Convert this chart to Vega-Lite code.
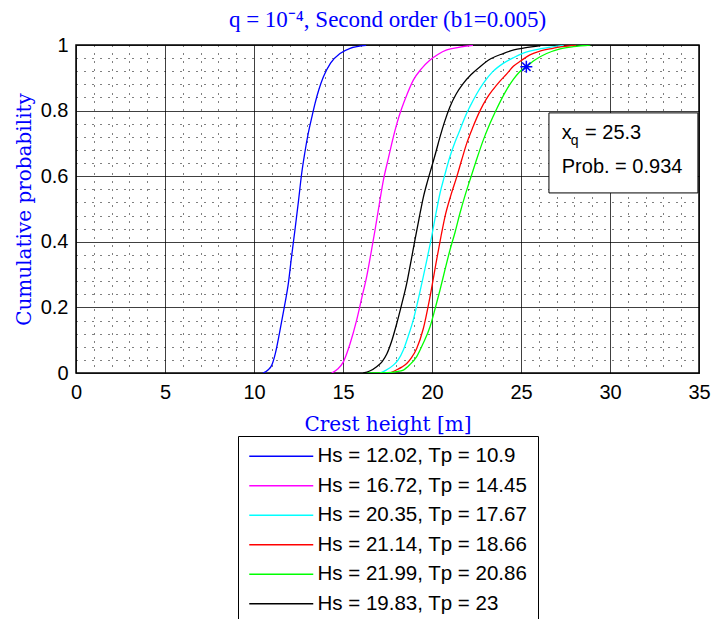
{
  "$schema": "https://vega.github.io/schema/vega-lite/v6.json",
  "width": 623,
  "height": 328,
  "autosize": {"type": "none"},
  "padding": {"left": 76, "top": 45, "right": 12, "bottom": 246},
  "background": "white",
  "title": {
    "text": "q = 10⁻⁴, Second order (b1=0.005)",
    "font": "Liberation Serif",
    "fontSize": 23,
    "fontWeight": "normal",
    "color": "#0000ff",
    "offset": 3,
    "anchor": "middle",
    "frame": "group"
  },
  "config": {
    "view": {"stroke": "black", "strokeWidth": 1.5},
    "axis": {"labelFont": "Liberation Sans", "labelFontSize": 20, "labelColor": "black"}
  },
  "layer": [
    {
      "data": {
        "values": [
          {"series": "Hs = 12.02, Tp = 10.9", "x": 10.5, "p": 0},
          {"series": "Hs = 12.02, Tp = 10.9", "x": 10.8, "p": 0.01},
          {"series": "Hs = 12.02, Tp = 10.9", "x": 11.0, "p": 0.024},
          {"series": "Hs = 12.02, Tp = 10.9", "x": 11.2, "p": 0.06},
          {"series": "Hs = 12.02, Tp = 10.9", "x": 11.46, "p": 0.13},
          {"series": "Hs = 12.02, Tp = 10.9", "x": 11.7, "p": 0.2},
          {"series": "Hs = 12.02, Tp = 10.9", "x": 11.93, "p": 0.273},
          {"series": "Hs = 12.02, Tp = 10.9", "x": 12.1, "p": 0.35},
          {"series": "Hs = 12.02, Tp = 10.9", "x": 12.3, "p": 0.436},
          {"series": "Hs = 12.02, Tp = 10.9", "x": 12.5, "p": 0.525},
          {"series": "Hs = 12.02, Tp = 10.9", "x": 12.68, "p": 0.609},
          {"series": "Hs = 12.02, Tp = 10.9", "x": 12.85, "p": 0.67},
          {"series": "Hs = 12.02, Tp = 10.9", "x": 13.05, "p": 0.731},
          {"series": "Hs = 12.02, Tp = 10.9", "x": 13.25, "p": 0.78},
          {"series": "Hs = 12.02, Tp = 10.9", "x": 13.43, "p": 0.822},
          {"series": "Hs = 12.02, Tp = 10.9", "x": 13.65, "p": 0.865},
          {"series": "Hs = 12.02, Tp = 10.9", "x": 13.9, "p": 0.903},
          {"series": "Hs = 12.02, Tp = 10.9", "x": 14.3, "p": 0.945},
          {"series": "Hs = 12.02, Tp = 10.9", "x": 14.83, "p": 0.974},
          {"series": "Hs = 12.02, Tp = 10.9", "x": 15.4, "p": 0.99},
          {"series": "Hs = 12.02, Tp = 10.9", "x": 16.3, "p": 0.999},

          {"series": "Hs = 16.72, Tp = 14.45", "x": 14.36, "p": 0},
          {"series": "Hs = 16.72, Tp = 14.45", "x": 14.7, "p": 0.012},
          {"series": "Hs = 16.72, Tp = 14.45", "x": 15.02, "p": 0.034},
          {"series": "Hs = 16.72, Tp = 14.45", "x": 15.4, "p": 0.09},
          {"series": "Hs = 16.72, Tp = 14.45", "x": 15.77, "p": 0.162},
          {"series": "Hs = 16.72, Tp = 14.45", "x": 16.05, "p": 0.228},
          {"series": "Hs = 16.72, Tp = 14.45", "x": 16.33, "p": 0.294},
          {"series": "Hs = 16.72, Tp = 14.45", "x": 16.57, "p": 0.365},
          {"series": "Hs = 16.72, Tp = 14.45", "x": 16.8, "p": 0.436},
          {"series": "Hs = 16.72, Tp = 14.45", "x": 17.03, "p": 0.512},
          {"series": "Hs = 16.72, Tp = 14.45", "x": 17.27, "p": 0.588},
          {"series": "Hs = 16.72, Tp = 14.45", "x": 17.55, "p": 0.655},
          {"series": "Hs = 16.72, Tp = 14.45", "x": 17.83, "p": 0.72},
          {"series": "Hs = 16.72, Tp = 14.45", "x": 18.05, "p": 0.765},
          {"series": "Hs = 16.72, Tp = 14.45", "x": 18.3, "p": 0.807},
          {"series": "Hs = 16.72, Tp = 14.45", "x": 18.6, "p": 0.85},
          {"series": "Hs = 16.72, Tp = 14.45", "x": 18.95, "p": 0.893},
          {"series": "Hs = 16.72, Tp = 14.45", "x": 19.4, "p": 0.927},
          {"series": "Hs = 16.72, Tp = 14.45", "x": 19.89, "p": 0.954},
          {"series": "Hs = 16.72, Tp = 14.45", "x": 20.35, "p": 0.972},
          {"series": "Hs = 16.72, Tp = 14.45", "x": 20.83, "p": 0.985},
          {"series": "Hs = 16.72, Tp = 14.45", "x": 21.5, "p": 0.993},
          {"series": "Hs = 16.72, Tp = 14.45", "x": 22.3, "p": 0.999},

          {"series": "Hs = 20.35, Tp = 17.67", "x": 17.08, "p": 0},
          {"series": "Hs = 20.35, Tp = 17.67", "x": 17.4, "p": 0.008},
          {"series": "Hs = 20.35, Tp = 17.67", "x": 17.83, "p": 0.024},
          {"series": "Hs = 20.35, Tp = 17.67", "x": 18.1, "p": 0.04},
          {"series": "Hs = 20.35, Tp = 17.67", "x": 18.39, "p": 0.07},
          {"series": "Hs = 20.35, Tp = 17.67", "x": 18.65, "p": 0.11},
          {"series": "Hs = 20.35, Tp = 17.67", "x": 18.95, "p": 0.162},
          {"series": "Hs = 20.35, Tp = 17.67", "x": 19.25, "p": 0.23},
          {"series": "Hs = 20.35, Tp = 17.67", "x": 19.51, "p": 0.294},
          {"series": "Hs = 20.35, Tp = 17.67", "x": 19.75, "p": 0.355},
          {"series": "Hs = 20.35, Tp = 17.67", "x": 19.98, "p": 0.416},
          {"series": "Hs = 20.35, Tp = 17.67", "x": 20.2, "p": 0.48},
          {"series": "Hs = 20.35, Tp = 17.67", "x": 20.45, "p": 0.548},
          {"series": "Hs = 20.35, Tp = 17.67", "x": 20.7, "p": 0.6},
          {"series": "Hs = 20.35, Tp = 17.67", "x": 21.01, "p": 0.66},
          {"series": "Hs = 20.35, Tp = 17.67", "x": 21.3, "p": 0.705},
          {"series": "Hs = 20.35, Tp = 17.67", "x": 21.57, "p": 0.741},
          {"series": "Hs = 20.35, Tp = 17.67", "x": 21.85, "p": 0.78},
          {"series": "Hs = 20.35, Tp = 17.67", "x": 22.13, "p": 0.812},
          {"series": "Hs = 20.35, Tp = 17.67", "x": 22.5, "p": 0.85},
          {"series": "Hs = 20.35, Tp = 17.67", "x": 22.88, "p": 0.883},
          {"series": "Hs = 20.35, Tp = 17.67", "x": 23.4, "p": 0.918},
          {"series": "Hs = 20.35, Tp = 17.67", "x": 24.0, "p": 0.944},
          {"series": "Hs = 20.35, Tp = 17.67", "x": 24.6, "p": 0.962},
          {"series": "Hs = 20.35, Tp = 17.67", "x": 25.13, "p": 0.975},
          {"series": "Hs = 20.35, Tp = 17.67", "x": 25.8, "p": 0.985},
          {"series": "Hs = 20.35, Tp = 17.67", "x": 26.6, "p": 0.993},
          {"series": "Hs = 20.35, Tp = 17.67", "x": 27.4, "p": 0.999},

          {"series": "Hs = 21.14, Tp = 18.66", "x": 17.64, "p": 0},
          {"series": "Hs = 21.14, Tp = 18.66", "x": 18.02, "p": 0.01},
          {"series": "Hs = 21.14, Tp = 18.66", "x": 18.3, "p": 0.018},
          {"series": "Hs = 21.14, Tp = 18.66", "x": 18.58, "p": 0.029},
          {"series": "Hs = 21.14, Tp = 18.66", "x": 18.85, "p": 0.047},
          {"series": "Hs = 21.14, Tp = 18.66", "x": 19.14, "p": 0.075},
          {"series": "Hs = 21.14, Tp = 18.66", "x": 19.51, "p": 0.135},
          {"series": "Hs = 21.14, Tp = 18.66", "x": 19.89, "p": 0.233},
          {"series": "Hs = 21.14, Tp = 18.66", "x": 20.26, "p": 0.345},
          {"series": "Hs = 21.14, Tp = 18.66", "x": 20.5, "p": 0.415},
          {"series": "Hs = 21.14, Tp = 18.66", "x": 20.73, "p": 0.477},
          {"series": "Hs = 21.14, Tp = 18.66", "x": 21.05, "p": 0.54},
          {"series": "Hs = 21.14, Tp = 18.66", "x": 21.39, "p": 0.598},
          {"series": "Hs = 21.14, Tp = 18.66", "x": 21.67, "p": 0.65},
          {"series": "Hs = 21.14, Tp = 18.66", "x": 21.95, "p": 0.7},
          {"series": "Hs = 21.14, Tp = 18.66", "x": 22.3, "p": 0.75},
          {"series": "Hs = 21.14, Tp = 18.66", "x": 22.7, "p": 0.8},
          {"series": "Hs = 21.14, Tp = 18.66", "x": 23.05, "p": 0.835},
          {"series": "Hs = 21.14, Tp = 18.66", "x": 23.44, "p": 0.865},
          {"series": "Hs = 21.14, Tp = 18.66", "x": 23.82, "p": 0.89},
          {"series": "Hs = 21.14, Tp = 18.66", "x": 24.2, "p": 0.912},
          {"series": "Hs = 21.14, Tp = 18.66", "x": 24.57, "p": 0.935},
          {"series": "Hs = 21.14, Tp = 18.66", "x": 25.0, "p": 0.952},
          {"series": "Hs = 21.14, Tp = 18.66", "x": 25.5, "p": 0.97},
          {"series": "Hs = 21.14, Tp = 18.66", "x": 26.1, "p": 0.982},
          {"series": "Hs = 21.14, Tp = 18.66", "x": 26.8, "p": 0.99},
          {"series": "Hs = 21.14, Tp = 18.66", "x": 27.3, "p": 0.995},
          {"series": "Hs = 21.14, Tp = 18.66", "x": 28.1, "p": 0.999},

          {"series": "Hs = 21.99, Tp = 20.86", "x": 16.3, "p": 0},
          {"series": "Hs = 21.99, Tp = 20.86", "x": 17.5, "p": 0.001},
          {"series": "Hs = 21.99, Tp = 20.86", "x": 18.0, "p": 0.004},
          {"series": "Hs = 21.99, Tp = 20.86", "x": 18.39, "p": 0.009},
          {"series": "Hs = 21.99, Tp = 20.86", "x": 18.75, "p": 0.025},
          {"series": "Hs = 21.99, Tp = 20.86", "x": 19.14, "p": 0.05},
          {"series": "Hs = 21.99, Tp = 20.86", "x": 19.5, "p": 0.09},
          {"series": "Hs = 21.99, Tp = 20.86", "x": 19.89, "p": 0.141},
          {"series": "Hs = 21.99, Tp = 20.86", "x": 20.17, "p": 0.195},
          {"series": "Hs = 21.99, Tp = 20.86", "x": 20.45, "p": 0.253},
          {"series": "Hs = 21.99, Tp = 20.86", "x": 20.73, "p": 0.315},
          {"series": "Hs = 21.99, Tp = 20.86", "x": 21.01, "p": 0.375},
          {"series": "Hs = 21.99, Tp = 20.86", "x": 21.3, "p": 0.43},
          {"series": "Hs = 21.99, Tp = 20.86", "x": 21.57, "p": 0.487},
          {"series": "Hs = 21.99, Tp = 20.86", "x": 21.85, "p": 0.54},
          {"series": "Hs = 21.99, Tp = 20.86", "x": 22.13, "p": 0.588},
          {"series": "Hs = 21.99, Tp = 20.86", "x": 22.5, "p": 0.65},
          {"series": "Hs = 21.99, Tp = 20.86", "x": 22.88, "p": 0.71},
          {"series": "Hs = 21.99, Tp = 20.86", "x": 23.25, "p": 0.76},
          {"series": "Hs = 21.99, Tp = 20.86", "x": 23.63, "p": 0.805},
          {"series": "Hs = 21.99, Tp = 20.86", "x": 24.1, "p": 0.855},
          {"series": "Hs = 21.99, Tp = 20.86", "x": 24.57, "p": 0.895},
          {"series": "Hs = 21.99, Tp = 20.86", "x": 24.9, "p": 0.917},
          {"series": "Hs = 21.99, Tp = 20.86", "x": 25.3, "p": 0.934},
          {"series": "Hs = 21.99, Tp = 20.86", "x": 25.8, "p": 0.955},
          {"series": "Hs = 21.99, Tp = 20.86", "x": 26.44, "p": 0.974},
          {"series": "Hs = 21.99, Tp = 20.86", "x": 27.2, "p": 0.988},
          {"series": "Hs = 21.99, Tp = 20.86", "x": 27.94, "p": 0.995},
          {"series": "Hs = 21.99, Tp = 20.86", "x": 28.9, "p": 1.0},

          {"series": "Hs = 19.83, Tp = 23", "x": 16.14, "p": 0},
          {"series": "Hs = 19.83, Tp = 23", "x": 16.5, "p": 0.006},
          {"series": "Hs = 19.83, Tp = 23", "x": 16.89, "p": 0.019},
          {"series": "Hs = 19.83, Tp = 23", "x": 17.2, "p": 0.035},
          {"series": "Hs = 19.83, Tp = 23", "x": 17.46, "p": 0.058},
          {"series": "Hs = 19.83, Tp = 23", "x": 17.75, "p": 0.1},
          {"series": "Hs = 19.83, Tp = 23", "x": 18.02, "p": 0.151},
          {"series": "Hs = 19.83, Tp = 23", "x": 18.3, "p": 0.21},
          {"series": "Hs = 19.83, Tp = 23", "x": 18.58, "p": 0.273},
          {"series": "Hs = 19.83, Tp = 23", "x": 18.8, "p": 0.335},
          {"series": "Hs = 19.83, Tp = 23", "x": 19.04, "p": 0.405},
          {"series": "Hs = 19.83, Tp = 23", "x": 19.27, "p": 0.47},
          {"series": "Hs = 19.83, Tp = 23", "x": 19.51, "p": 0.535},
          {"series": "Hs = 19.83, Tp = 23", "x": 19.75, "p": 0.585},
          {"series": "Hs = 19.83, Tp = 23", "x": 19.98, "p": 0.628},
          {"series": "Hs = 19.83, Tp = 23", "x": 20.2, "p": 0.67},
          {"series": "Hs = 19.83, Tp = 23", "x": 20.45, "p": 0.72},
          {"series": "Hs = 19.83, Tp = 23", "x": 20.7, "p": 0.765},
          {"series": "Hs = 19.83, Tp = 23", "x": 21.01, "p": 0.812},
          {"series": "Hs = 19.83, Tp = 23", "x": 21.35, "p": 0.85},
          {"series": "Hs = 19.83, Tp = 23", "x": 21.76, "p": 0.883},
          {"series": "Hs = 19.83, Tp = 23", "x": 22.2, "p": 0.91},
          {"series": "Hs = 19.83, Tp = 23", "x": 22.7, "p": 0.934},
          {"series": "Hs = 19.83, Tp = 23", "x": 23.3, "p": 0.958},
          {"series": "Hs = 19.83, Tp = 23", "x": 24.0, "p": 0.974},
          {"series": "Hs = 19.83, Tp = 23", "x": 24.6, "p": 0.985},
          {"series": "Hs = 19.83, Tp = 23", "x": 25.2, "p": 0.991},
          {"series": "Hs = 19.83, Tp = 23", "x": 26.1, "p": 0.998}
        ]
      },
      "mark": {"type": "line", "strokeWidth": 1.3, "interpolate": "monotone", "clip": true},
      "encoding": {
        "x": {
          "field": "x",
          "type": "quantitative",
          "scale": {"domain": [0, 35], "nice": false, "zero": false},
          "axis": {
            "values": [0,1,2,3,4,5,6,7,8,9,10,11,12,13,14,15,16,17,18,19,20,21,22,23,24,25,26,27,28,29,30,31,32,33,34,35],
            "tickCount": 200,
            "format": "d",
            "labelExpr": "datum.value % 5 === 0 ? datum.label : ''",
            "labelOverlap": false,
            "labelFlush": false,
            "grid": true,
            "gridColor": "black",
            "gridWidth": 1,
            "gridDash": {"condition": {"test": "datum.value % 5 === 0", "value": [1, 0]}, "value": [1, 7]},
            "ticks": false,
            "domain": false,
            "labelPadding": 9,
            "title": "Crest height [m]",
            "titleFont": "DejaVu Serif",
            "titleFontSize": 20,
            "titleFontWeight": "normal",
            "titleColor": "#0000ff",
            "titlePadding": 12
          }
        },
        "y": {
          "field": "p",
          "type": "quantitative",
          "scale": {"domain": [0, 1], "nice": false},
          "axis": {
            "values": [0,0.04,0.08,0.12,0.16,0.2,0.24,0.28,0.32,0.36,0.4,0.44,0.48,0.52,0.56,0.6,0.64,0.68,0.72,0.76,0.8,0.84,0.88,0.92,0.96,1],
            "tickCount": 200,
            "format": "~g",
            "labelExpr": "abs(datum.value*5 - round(datum.value*5)) < 0.001 ? datum.label : ''",
            "labelOverlap": false,
            "labelFlush": false,
            "grid": true,
            "gridColor": "black",
            "gridWidth": 1,
            "gridDash": {"condition": {"test": "abs(datum.value*5 - round(datum.value*5)) < 0.001", "value": [1, 0]}, "value": [1, 7]},
            "ticks": false,
            "domain": false,
            "labelPadding": 8,
            "title": "Cumulative probability",
            "titleFont": "DejaVu Serif",
            "titleFontSize": 20,
            "titleFontWeight": "normal",
            "titleColor": "#0000ff",
            "titlePadding": 6
          }
        },
        "color": {
          "field": "series",
          "type": "nominal",
          "sort": null,
          "scale": {
            "domain": ["Hs = 12.02, Tp = 10.9", "Hs = 16.72, Tp = 14.45", "Hs = 20.35, Tp = 17.67", "Hs = 21.14, Tp = 18.66", "Hs = 21.99, Tp = 20.86", "Hs = 19.83, Tp = 23"],
            "range": ["#0000ff", "#ff00ff", "#00ffff", "#ff0000", "#00ff00", "#000000"]
          },
          "legend": {
            "orient": "none",
            "legendX": 162,
            "legendY": 391,
            "title": null,
            "direction": "vertical",
            "fillColor": "white",
            "strokeColor": "black",
            "padding": 10,
            "symbolType": "M-16,0L16,0",
            "symbolSize": 16,
            "symbolOffset": 23,
            "symbolStrokeWidth": 1.5,
            "labelFont": "Liberation Sans",
            "labelFontSize": 20.5,
            "labelColor": "black",
            "labelOffset": 26,
            "labelLimit": 400,
            "rowPadding": 8.5
          }
        }
      }
    },
    {
      "data": {"values": [{"x": 26.57, "x2": 34.94, "y": 0.549, "y2": 0.793}]},
      "mark": {"type": "rect", "fill": "white", "stroke": "black", "strokeWidth": 1},
      "encoding": {
        "x": {"field": "x", "type": "quantitative"},
        "x2": {"field": "x2"},
        "y": {"field": "y", "type": "quantitative"},
        "y2": {"field": "y2"}
      }
    },
    {
      "data": {"values": [{"x": 25.3, "p": 0.934}]},
      "mark": {
        "type": "point",
        "shape": "M-1,0L1,0M0,-1L0,1M-0.7,-0.7L0.7,0.7M-0.7,0.7L0.7,-0.7",
        "filled": false,
        "stroke": "#0000ff",
        "strokeWidth": 1.5,
        "size": 144,
        "opacity": 1
      },
      "encoding": {
        "x": {"field": "x", "type": "quantitative"},
        "y": {"field": "p", "type": "quantitative"}
      }
    },
    {
      "data": {"values": [
        {"x": 27.29, "p": 0.7125, "t": "x"},
        {"x": 28.6, "p": 0.7125, "t": "= 25.3"},
        {"x": 27.29, "p": 0.609, "t": "Prob. = 0.934"}
      ]},
      "mark": {"type": "text", "font": "Liberation Sans", "fontSize": 20, "align": "left", "baseline": "alphabetic", "color": "black"},
      "encoding": {
        "x": {"field": "x", "type": "quantitative"},
        "y": {"field": "p", "type": "quantitative"},
        "text": {"field": "t"}
      }
    },
    {
      "data": {"values": [{"x": 27.8, "p": 0.695, "t": "q"}]},
      "mark": {"type": "text", "font": "Liberation Sans", "fontSize": 14, "align": "left", "baseline": "alphabetic", "color": "black"},
      "encoding": {
        "x": {"field": "x", "type": "quantitative"},
        "y": {"field": "p", "type": "quantitative"},
        "text": {"field": "t"}
      }
    }
  ]
}
